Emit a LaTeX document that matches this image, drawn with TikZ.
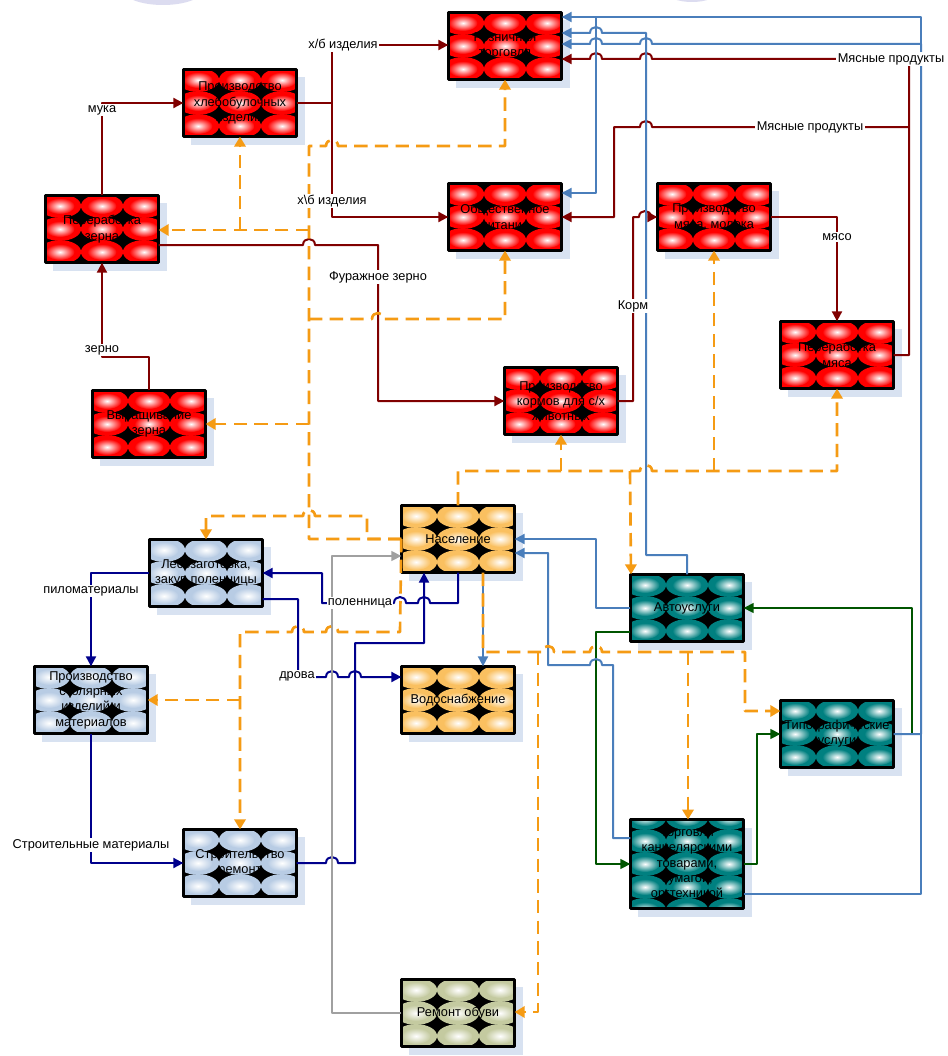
\documentclass[tikz,border=0pt]{standalone}
\usepackage{fontspec}
\setmainfont{Liberation Sans}
\usetikzlibrary{arrows.meta,shadows}
\definecolor{lnred}{RGB}{128,0,0}
\definecolor{lnblue}{RGB}{74,126,187}
\definecolor{lnnavy}{RGB}{0,0,140}
\definecolor{lngreen}{RGB}{0,85,0}
\definecolor{lngrey}{RGB}{160,160,160}
\definecolor{lnorange}{RGB}{245,155,20}
\definecolor{cred}{RGB}{255,0,0}
\definecolor{csteel}{RGB}{184,204,228}
\definecolor{capricot}{RGB}{250,192,96}
\definecolor{cteal}{RGB}{0,128,128}
\definecolor{ckhaki}{RGB}{196,202,160}
\definecolor{cshadow}{RGB}{216,226,241}
\definecolor{clavender}{RGB}{220,220,240}
\newcommand{\jumpr}[2]{-- ({#1-6},#2) .. controls ({#1-6},{#2-8}) and ({#1+6},{#2-8}) .. ({#1+6},#2)}
\newcommand{\jumpl}[2]{-- ({#1+6},#2) .. controls ({#1+6},{#2-8}) and ({#1-6},{#2-8}) .. ({#1-6},#2)}
\newcommand{\cellfont}{\fontsize{9.6}{11.5}\selectfont}
\begin{document}
\begin{tikzpicture}[x=0.75pt,y=-0.75pt,line join=round,
    cell/.style={draw=black,line width=2.4pt,fill=black,outer sep=0pt,inner sep=1pt,
      minimum width=85pt,minimum height=50.5pt,align=center,font=\cellfont,
      general shadow={fill=cshadow,shadow xshift=6pt,shadow yshift=-6pt},
      path picture={
        \foreach \i in {-1,0,1}
          \foreach \j in {-2,...,2}{
            \fill[#1] ([shift={(\i*31.5pt,\j*17.25pt)}]path picture bounding box.center) ellipse [x radius=15.8pt,y radius=8.9pt];
            \shade[inner color=white,outer color=#1] ([shift={(\i*31.5pt,\j*17.25pt)}]path picture bounding box.center) ellipse [x radius=11pt,y radius=6pt];
          }}},
    lbl/.style={fill=white,inner sep=1pt,font=\cellfont},
    link/.style={line width=1.5pt,-{Triangle[length=7.5pt,width=7.5pt]}},
    redlink/.style={link,draw=lnred},
    bluelink/.style={link,draw=lnblue},
    navylink/.style={link,draw=lnnavy},
    greenlink/.style={link,draw=lngreen,line width=1.1pt},
    greylink/.style={link,draw=lngrey,line width=1.1pt},
    orlink/.style={draw=lnorange,line width=2pt,dash pattern=on 10pt off 5.5pt,-{Triangle[length=7.5pt,width=8.5pt]}}]
  \useasboundingbox (0,0) rectangle (947,1056);
  \fill[white] (0,0) rectangle (947,1056);
  \fill[clavender] (163,-10) ellipse [x radius=30pt,y radius=11.25pt];
  \fill[clavender] (692,-8) ellipse [x radius=19pt,y radius=7.5pt];

  \node[cell=cred] (rozn) at (505,46) {Розничная\\торговля};
  \node[cell=cred] (hleb) at (240,103) {Производство\\хлебобулочных\\изделий};
  \node[cell=cred] (zerno) at (102,229) {Переработка\\зерна};
  \node[cell=cred] (obpit) at (505,217) {Общественное\\питание};
  \node[cell=cred] (myaso) at (714,217) {Производство\\мяса, молока};
  \node[cell=cred] (permyas) at (837,355) {Переработка\\мяса};
  \node[cell=cred] (korm) at (561,401) {Производство\\кормов для с/х\\животных};
  \node[cell=cred] (vyr) at (149,424) {Выращивание\\зерна};
  \node[cell=capricot] (nasel) at (458,539) {Население};
  \node[cell=csteel] (les) at (206,573) {Лесозаготовка,\\закуп поленницы};
  \node[cell=cteal] (avto) at (687,608) {Автоуслуги};
  \node[cell=csteel] (stol) at (91,700) {Производство\\столярных\\изделий и\\материалов};
  \node[cell=capricot] (voda) at (458,700) {Водоснабжение};
  \node[cell=cteal] (tipo) at (837,734) {Типографические\\услуги};
  \node[cell=csteel] (stroi) at (240,863) {Строительство\\ремонт};
  \node[cell=cteal,minimum height=66.75pt] (kanc) at (687,864) {Торговля\\канцелярскими\\товарами,\\бумагой,\\оргтехникой};
  \node[cell=ckhaki] (obuv) at (458,1013) {Ремонт обуви};

  \coordinate (jmeat) at (909,127);
  \coordinate (jtop) at (596,17);
  \coordinate (orZerno) at (309,230);
  \coordinate (orHleb) at (240,230);
  \coordinate (orPit) at (309,319);
  \coordinate (orVyr) at (309,424);
  \coordinate (orStol) at (240,700);
  \coordinate (orKorm) at (561,471);
  \coordinate (orMyaso) at (714,471);
  \coordinate (orAvto) at (630,471);
  \coordinate (orKanc) at (688,652);
  \coordinate (orObuv) at (538,652);

  \draw[redlink] (zerno.north) -- (102,103) -- (hleb.west);
  \draw[redlink] (hleb.east) -- (332,103) -- (332,45) -- (rozn.west |- 0,45);
  \draw[redlink] (hleb.east) -- (332,103) -- (332,217) -- (obpit.west);
  \draw[redlink] (zerno.east |- 0,245) \jumpr{309}{245} -- (378,245) -- (378,401) -- (korm.west);
  \draw[redlink] (vyr.north) -- (149,357) -- (102,357) -- (zerno.south);
  \draw[redlink] (korm.east) -- (633,401) -- (633,217) \jumpr{645}{217} -- (myaso.west);
  \draw[redlink] (myaso.east) -- (837,217) -- (permyas.north);
  \draw[redlink] (permyas.east) -- (909,355) -- (909,59) \jumpl{646}{59} \jumpl{596}{59} -- (rozn.east |- 0,59);
  \draw[redlink] (jmeat) \jumpl{646}{127} -- (614,127) -- (614,217) -- (obpit.east);

  \draw[greenlink] (avto.west |- 0,632) -- (596,632) -- (596,864) -- (kanc.west);
  \draw[greenlink] (kanc.east) -- (757,864) -- (757,734) -- (tipo.west);
  \draw[greenlink] (tipo.east) -- (912,734) -- (912,608) -- (avto.east);

  \draw[bluelink] (kanc.east |- 0,894) -- (921,894) -- (921,17) -- (rozn.east |- 0,17);
  \draw[bluelink] (jtop) -- (596,193) -- (obpit.east |- 0,193);
  \draw[bluelink] (tipo.east) -- (921,734) -- (921,44) \jumpl{646}{44} \jumpl{596}{44} -- (rozn.east |- 0,44);
  \draw[bluelink] (avto.north) -- (687,555) -- (646,555) -- (646,33) \jumpl{596}{33} -- (rozn.east |- 0,33);
  \draw[bluelink] (avto.west) -- (596,608) -- (596,539) -- (nasel.east);
  \draw[bluelink] (kanc.west |- 0,838) -- (613,838) -- (613,665) \jumpl{596}{665} -- (548,665) -- (548,553) -- (nasel.east |- 0,553);
  \draw[bluelink] (nasel.south -| 483,0) -- (voda.north -| 483,0);

  \draw[navylink] (les.west) -- (91,573) -- (stol.north);
  \draw[navylink] (nasel.south) -- (458,603) \jumpl{424}{603} \jumpl{400}{603} -- (322,603) -- (322,573) -- (les.east);
  \draw[navylink] (les.east |- 0,599) -- (298,599) -- (298,677) \jumpr{332}{677} \jumpr{355}{677} -- (voda.west |- 0,677);
  \draw[navylink] (stroi.east) \jumpr{332}{863} -- (355,863) -- (355,643) -- (424,643) -- (nasel.south -| 424,0);
  \draw[navylink] (stol.south) -- (91,863) -- (stroi.west);

  \draw[greylink] (obuv.west) -- (332,1013) -- (332,556) -- (nasel.west |- 0,556);

  \draw[orlink] (nasel.west) -- (309,539) -- (309,146) \jumpr{332}{146} -- (505,146) -- (rozn.south);
  \draw[orlink] (orZerno) -- (zerno.east |- 0,230);
  \draw[orlink] (orHleb) -- (hleb.south);
  \draw[orlink] (orPit) \jumpr{378}{319} -- (505,319) -- (obpit.south);
  \draw[orlink] (orVyr) -- (vyr.east);
  \draw[orlink] (nasel.west) -- (367,539) -- (367,516) \jumpl{309}{516} -- (206,516) -- (les.north);
  \draw[orlink] (nasel.west) -- (400,632) \jumpl{332}{632} \jumpl{298}{632} -- (240,632) -- (stroi.north);
  \draw[orlink] (orStol) -- (stol.east);
  \draw[orlink] (nasel.north) -- (458,471) \jumpr{646}{471} -- (837,471) -- (permyas.south);
  \draw[orlink] (orKorm) -- (korm.south);
  \draw[orlink] (orMyaso) -- (myaso.south);
  \draw[orlink] (orAvto) -- (avto.north -| 631,0);
  \draw[orlink] (nasel.south -| 483,0) -- (483,652) \jumpr{548}{652} \jumpr{596}{652} -- (745,652) -- (745,711) -- (tipo.west |- 0,711);
  \draw[orlink] (orKanc) -- (kanc.north -| 688,0);
  \draw[orlink] (orObuv) -- (538,1012) -- (obuv.east |- 0,1012);

  \node[lbl] (lmuka) at (102,110) {мука};
  \node[lbl] (lxb1) at (343,45) {х/б изделия};
  \node[lbl] (lxb2) at (332,201) {х\textbackslash б изделия};
  \node[lbl] (lfur) at (378,277) {Фуражное зерно};
  \node[lbl] (lzerno) at (102,350) {зерно};
  \node[lbl] (lkorm) at (633,306) {Корм};
  \node[lbl] (lmyaso) at (837,237) {мясо};
  \node[lbl] (lmp1) at (891,59) {Мясные продукты};
  \node[lbl] (lmp2) at (810,127) {Мясные продукты};
  \node[lbl] (lpilo) at (91,591) {пиломатериалы};
  \node[lbl] (lpol) at (360,603) {поленница};
  \node[lbl] (ldrova) at (297,676) {дрова};
  \node[lbl] (lstrm) at (91,845) {Строительные материалы};
\end{tikzpicture}
\end{document}
